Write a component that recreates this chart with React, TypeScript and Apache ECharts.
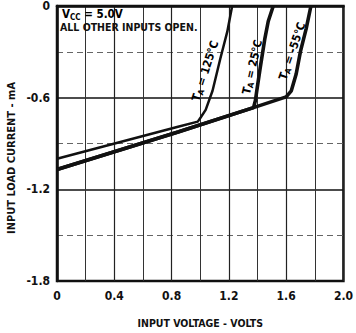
import React, { useEffect, useRef } from "react";
import * as echarts from "echarts";

// Input voltage (V) / input load current (mA)
const volt125 = [0, 0.845, 0.983, 1.003, 1.038, 1.086, 1.141, 1.189, 1.223];
const cur125 = [-1.0, -0.79, -0.757, -0.73, -0.68, -0.555, -0.342, -0.168, 0];

const volt25 = [0, 0.845, 1.372, 1.385, 1.395, 1.418, 1.452, 1.475, 1.51];
const cur25 = [-1.07, -0.825, -0.665, -0.62, -0.555, -0.41, -0.21, -0.1, 0];

const voltM55 = [0, 0.845, 1.372, 1.6, 1.636, 1.67, 1.7, 1.74, 1.773];
const curM55 = [-1.07, -0.825, -0.665, -0.595, -0.555, -0.445, -0.297, -0.148, 0];

const xTickLabels = ["0", "0.4", "0.8", "1.2", "1.6", "2.0"];
const yTickLabels = ["0", "-0.6", "-1.2", "-1.8"];

const FONT = "'DejaVu Sans Condensed', 'Liberation Sans Narrow', 'DejaVu Sans', sans-serif";

const pairs = (xs: number[], ys: number[]) => xs.map((x, i) => [x, ys[i]]);

export default function App() {
  const ref = useRef<HTMLDivElement>(null);
  useEffect(() => {
    if (!ref.current) return;
    const chart = echarts.init(ref.current, null, { renderer: "svg" });
    const rich = {
      a: { fontFamily: FONT, fontSize: 11.5, fontWeight: "bold", color: "#111", lineHeight: 14 },
      b: { fontFamily: FONT, fontSize: 8, fontWeight: "bold", color: "#111", lineHeight: 8, verticalAlign: "bottom" },
    };
    const tempLabel = (t: string, x: number, y: number, deg: number) => ({
      type: "text",
      x,
      y,
      rotation: (deg * Math.PI) / 180,
      style: {
        text: `{a|T}{b|A}{a| = ${t}}`,
        rich,
        align: "center",
        verticalAlign: "middle",
      },
      z: 10,
    });
    const lineSeries = (name: string, data: number[][], w: number) => ({
      name,
      type: "line",
      data,
      showSymbol: false,
      symbol: "none",
      lineStyle: { color: "#111", width: w },
      z: 5,
    });
    chart.setOption({
      animation: false,
      backgroundColor: "#fff",
      grid: {
        left: 57,
        right: 8,
        top: 4,
        bottom: 49,
        show: true,
        borderColor: "#111",
        borderWidth: 2.5,
        containLabel: false,
      },
      xAxis: {
        type: "value",
        min: 0,
        max: 2,
        interval: 0.4,
        axisLine: { show: true, lineStyle: { color: "#111", width: 2.5 } },
        axisTick: { show: false },
        minorTick: { show: false, splitNumber: 2 },
        axisLabel: {
          margin: 9,
          fontFamily: FONT,
          fontWeight: "bold",
          fontSize: 12,
          color: "#111",
          formatter: (v: number) => xTickLabels[Math.round(v / 0.4)] ?? "",
        },
        splitLine: { show: true, lineStyle: { color: "#222", width: 1.2 } },
        minorSplitLine: { show: true, lineStyle: { color: "#333", width: 1 } },
        name: "INPUT VOLTAGE - VOLTS",
        nameLocation: "middle",
        nameGap: 36,
        nameTextStyle: { fontFamily: FONT, fontWeight: "bold", fontSize: 10.5, color: "#111" },
      },
      yAxis: {
        type: "value",
        min: -1.8,
        max: 0,
        interval: 0.6,
        axisLine: { show: true, lineStyle: { color: "#111", width: 2.5 } },
        axisTick: { show: false },
        minorTick: { show: false, splitNumber: 2 },
        axisLabel: {
          margin: 7,
          fontFamily: FONT,
          fontWeight: "bold",
          fontSize: 12,
          color: "#111",
          formatter: (v: number) => yTickLabels[Math.round(-v / 0.6)] ?? "",
        },
        splitLine: { show: true, lineStyle: { color: "#111", width: 1.5 } },
        minorSplitLine: { show: true, lineStyle: { color: "#666", width: 1, type: [6, 4] } },
      },
      series: [
        lineSeries("TA = 125°C", pairs(volt125, cur125), 2.5),
        lineSeries("TA = 25°C", pairs(volt25, cur25), 3.6),
        lineSeries("TA = -55°C", pairs(voltM55, curM55), 3.6),
      ],
      graphic: [
        {
          type: "text",
          rotation: Math.PI / 2,
          x: 11,
          y: 158,
          style: {
            text: "INPUT LOAD CURRENT - mA",
            fontFamily: FONT,
            fontWeight: "bold",
            fontSize: 11,
            fill: "#111",
            align: "center",
            verticalAlign: "middle",
          },
        },
        {
          type: "text",
          x: 62,
          y: 7,
          style: {
            text: "{a|V}{b|CC}{a| = 5.0V}",
            rich,
          },
          z: 10,
        },
        {
          type: "text",
          x: 60,
          y: 21,
          style: {
            text: "ALL OTHER INPUTS OPEN.",
            fontFamily: FONT,
            fontWeight: "bold",
            fontSize: 10.5,
            fill: "#111",
          },
          z: 10,
        },
        tempLabel("125°C", 205, 71, 72),
        tempLabel("25°C", 252, 67, 77),
        tempLabel("-55°C", 292, 51, 71),
      ],
    });
    return () => chart.dispose();
  }, []);
  return (
    <div
      ref={ref}
      style={{ position: "fixed", left: 0, top: 0, width: 356, height: 333, background: "#fff" }}
    />
  );
}
